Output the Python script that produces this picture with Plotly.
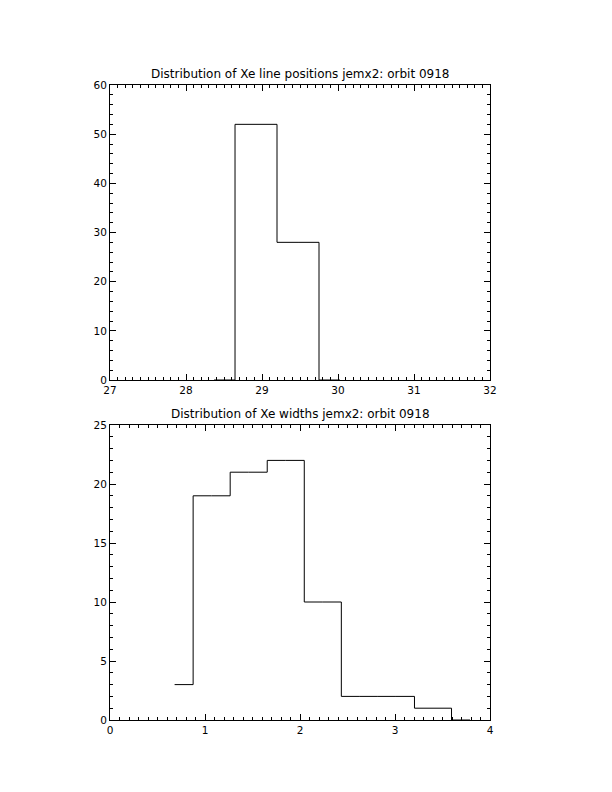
import plotly.graph_objects as go

# Panel 1: Xe line positions (bin centres, counts)
pos_centers = [28.369, 28.921, 29.474, 30.026]
pos_counts = [0, 52, 28, 0]

# Panel 2: Xe widths (bin centres, counts)
width_centers = [0.68, 1.07, 1.46, 1.85, 2.24, 2.63, 3.01, 3.40, 3.79]
width_counts = [3, 19, 21, 22, 10, 2, 2, 1, 0]

title_top = "Distribution of Xe line positions jemx2: orbit 0918"
title_bot = "Distribution of Xe widths jemx2: orbit 0918"

# page has 8px body margin; size figure so the page is exactly 612x792
OFF = 8
W, H = 612 - 2 * OFF, 792 - 2 * OFF
def px_x(p):
    return (p - OFF) / W
def px_y(p):
    return 1 - (p - OFF) / H

xd = [px_x(110), px_x(490)]
yd_top = [px_y(380), px_y(85)]
yd_bot = [px_y(720), px_y(425)]

fig = go.Figure()
fig.add_trace(go.Scatter(x=pos_centers, y=pos_counts, mode="lines", line_shape="hvh",
                         line=dict(color="black", width=1), xaxis="x", yaxis="y",
                         showlegend=False, hoverinfo="skip"))
fig.add_trace(go.Scatter(x=width_centers, y=width_counts, mode="lines", line_shape="hvh",
                         line=dict(color="black", width=1), xaxis="x2", yaxis="y2",
                         showlegend=False, hoverinfo="skip"))

font = dict(family="DejaVu Sans", size=10.5, color="black")
common = dict(showline=True, linecolor="black", linewidth=1, mirror="allticks",
              ticks="inside", ticklen=6, tickcolor="black", tickwidth=1,
              showgrid=False, zeroline=False, tickfont=font, automargin=False)
minor = lambda d: dict(dtick=d, ticklen=3, ticks="inside", tickcolor="black", showgrid=False)

fig.update_layout(
    template="none",
    width=W, height=H, margin=dict(l=0, r=0, t=0, b=0, pad=0), autosize=False,
    paper_bgcolor="white", plot_bgcolor="white",
    xaxis=dict(domain=xd, range=[27, 32], dtick=1, tick0=27, anchor="y",
               minor=minor(0.1), **common),
    yaxis=dict(domain=yd_top, range=[0, 60], dtick=10, anchor="x",
               minor=minor(2), **common),
    xaxis2=dict(domain=xd, range=[0, 4], dtick=1, anchor="y2",
                minor=minor(0.1), **common),
    yaxis2=dict(domain=yd_bot, range=[0, 25], dtick=5, anchor="x2",
                minor=minor(1), **common),
    annotations=[
        dict(text=title_top, xref="paper", yref="paper", x=(xd[0] + xd[1]) / 2,
             y=yd_top[1], yanchor="bottom", yshift=2, showarrow=False,
             font=dict(family="DejaVu Sans", size=12, color="black")),
        dict(text=title_bot, xref="paper", yref="paper", x=(xd[0] + xd[1]) / 2,
             y=yd_bot[1], yanchor="bottom", yshift=2, showarrow=False,
             font=dict(family="DejaVu Sans", size=12, color="black")),
    ],
)

fig.write_html("out.html")
